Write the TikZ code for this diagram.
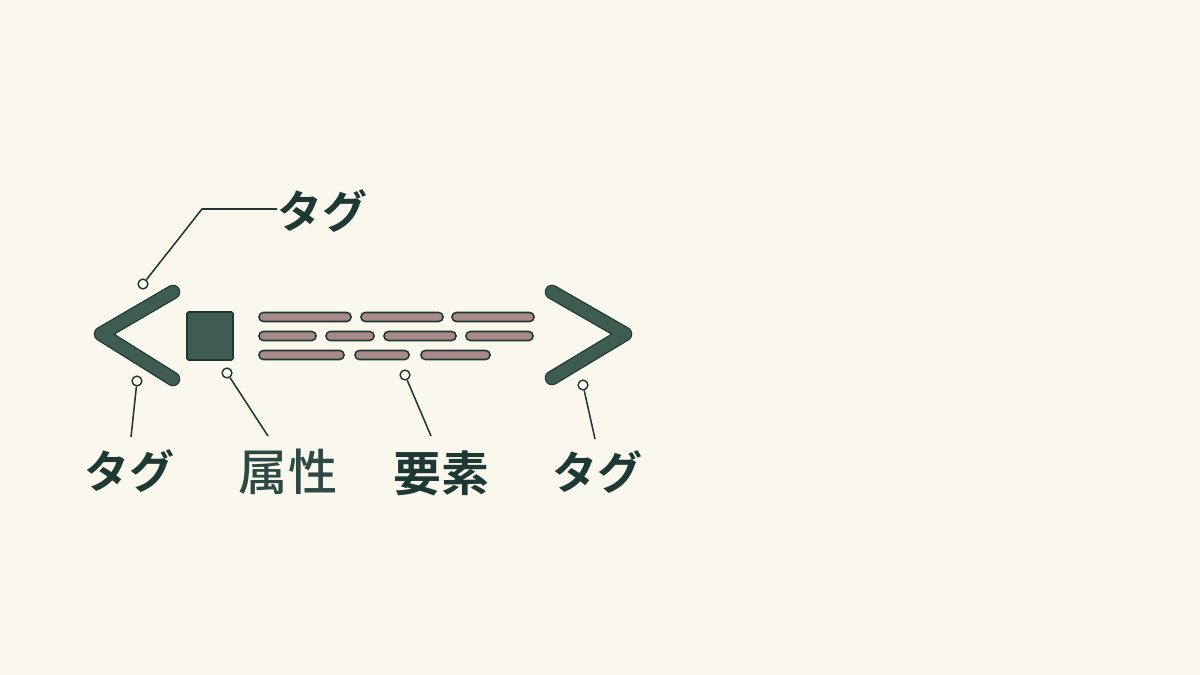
\documentclass[tikz,border=0pt]{standalone}
\usepackage{fontspec}
\usepackage{tikz}
\usetikzlibrary{calc,positioning}
\newfontfamily\jpfont{Noto Sans CJK JP}[BoldFont={* Bold}]
\newfontfamily\jpmid{Noto Sans CJK JP Medium}
\definecolor{paper}{HTML}{FAF8EC}
\definecolor{ink}{HTML}{1E3833}
\definecolor{inksoft}{HTML}{2C4A43}
\definecolor{leaf}{HTML}{3F5C52}
\definecolor{mauve}{HTML}{A88A8C}

\begin{document}
\begin{tikzpicture}[x=0.025cm,y=-0.025cm,
		chev/.style={line width=10.4pt,line cap=round,line join=round,draw=ink},
		chevin/.style={line width=8.6pt,line cap=round,line join=round,draw=leaf},
		bar/.style={draw=ink,line width=1.1pt,fill=mauve,rounded corners=3pt},
		dot/.style={circle,draw=ink,fill=paper,line width=1pt,minimum size=7pt,inner sep=0pt},
		lead/.style={draw=ink,line width=1.1pt},
		word/.style={text=ink,font=\jpfont\bfseries\fontsize{32}{38}\selectfont,inner sep=0pt},
		kanji/.style={text=inksoft,font=\jpmid\fontsize{35}{40}\selectfont,inner sep=0pt}]
		\fill[paper] (0,0) rectangle (1200,675);
		\useasboundingbox (0,0) rectangle (1200,675);
		% chevrons
		\draw[chev] (173,292)--(101,334)--(173,379);
		\draw[chevin] (173,292)--(101,334)--(173,379);
		\draw[chev] (552,292)--(625,334)--(552,378);
		\draw[chevin] (552,292)--(625,334)--(552,378);
		% attribute box
		\draw[draw=ink,line width=1.1pt,fill=leaf,rounded corners=1pt] (187,312) rectangle (233,360);
		% element text bars
		\foreach \a/\b/\y in {259/351/317,361/443/317,452/534/317,
			259/316/336,326/374/336,384/456/336,466/533/336,
			259/344/355,355/409/355,421/490/355}
		\draw[bar] (\a,\y-4.5) rectangle (\b,\y+4.5);
		% labels
		\node[word] (tagtop) at (322,211) {タグ};
		\node[word] (tagl) at (129,471) {タグ};
		\node[kanji] (attr) at (288,472) {属性};
		\node[word,font=\jpfont\bfseries\fontsize{34}{40}\selectfont] (elem) at (441,473) {要素};
		\node[word] (tagr) at (597,472) {タグ};
		% pins
		\node[dot] (ptop) at (143,284) {};
		\node[dot] (pl) at (137,381) {};
		\node[dot] (pattr) at (227,373) {};
		\node[dot] (pelem) at (405,375) {};
		\node[dot] (pr) at (583,385) {};
		\coordinate (ktop) at (202,209);
		\coordinate (kend) at (277,209);
		\coordinate (kl) at (131,437);
		\coordinate (kattr) at (268,436);
		\coordinate (kelem) at (431,436);
		\coordinate (kr) at (595,439);
		\draw[lead] (ptop)--(ktop)--(kend);
		\draw[lead] (pl)--(kl);
		\draw[lead] (pattr)--(kattr);
		\draw[lead] (pelem)--(kelem);
		\draw[lead] (pr)--(kr);
	\end{tikzpicture}
\end{document}
